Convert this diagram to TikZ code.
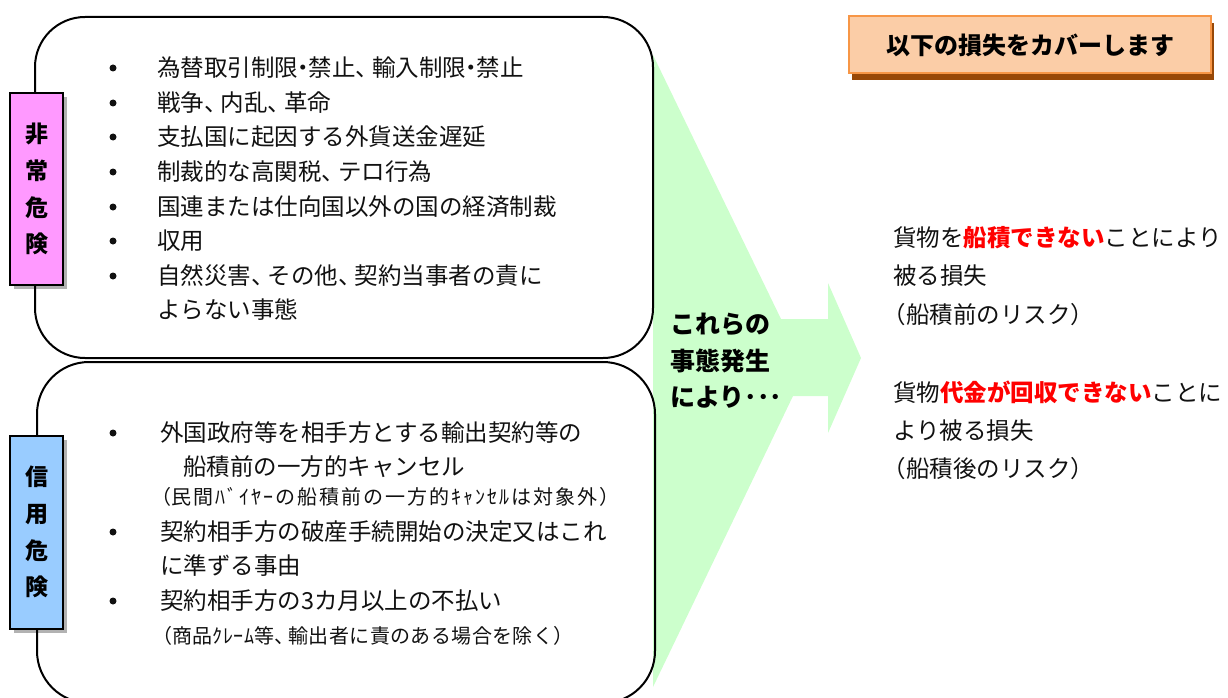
\documentclass[tikz,border=0pt]{standalone}
\usepackage{fontspec}
\setmainfont{Noto Sans CJK JP}
\usetikzlibrary{shadows}
\definecolor{pinkfill}{HTML}{FF99FF}
\definecolor{bluefill}{HTML}{99CCFF}
\definecolor{greenfill}{HTML}{CCFFCC}
\definecolor{peach}{HTML}{FBCDA7}
\definecolor{orangeline}{HTML}{F79646}
\definecolor{brownshadow}{HTML}{984807}
\definecolor{textblack}{HTML}{111111}
\definecolor{redtext}{HTML}{FF0000}
% narrow punctuation, like the proportional font of the reference
\newcommand\jten{\makebox[0.7em][l]{、}}
\newcommand\jdot{\makebox[0.45em][c]{・}}
\newcommand\jopen{\makebox[0.55em][r]{（}}
\begin{document}
\begin{tikzpicture}[x=1pt,y=-1pt,
  txt/.style={anchor=west, inner sep=0pt, text=textblack, font=\fontsize{23.5}{23.5}\selectfont},
  smalltxt/.style={anchor=west, inner sep=0pt, text=textblack, font=\fontsize{20}{20}\selectfont},
  bul/.style={circle, fill=textblack, inner sep=0pt, minimum size=7pt},
  riskbox/.style={line width=2pt, rounded corners=50pt},
  labelbox/.style={draw=black, line width=2pt, minimum width=53pt, inner sep=0pt, align=center,
    font=\fontsize{23}{36.8}\selectfont\bfseries,
    drop shadow={shadow xshift=4pt, shadow yshift=-4pt, opacity=0.3, fill=black}}
]
\useasboundingbox (0,0) rectangle (1228,698);

% green arrow
\fill[greenfill] (653,55) -- (781,319) -- (828,319) -- (828,283) -- (861,358)
  -- (828,433) -- (828,396) -- (793,396) -- (653,687) -- cycle;

% boxes
\draw[riskbox] (35,17) rectangle (653,358);
\draw[riskbox, rounded corners=52pt] (37,362) rectangle (655,703);

% labels
\node[labelbox, fill=pinkfill, minimum height=192pt] (hijo) at (36.5,189) {非\\常\\危\\険};
\node[labelbox, fill=bluefill, minimum height=193pt] (shinyo) at (36.5,532) {信\\用\\危\\険};

% top list
\node[bul] (b1) at (113,68) {};
\node[bul] (b2) at (113,103) {};
\node[bul] (b3) at (113,137) {};
\node[bul] (b4) at (113,172) {};
\node[bul] (b5) at (113,207) {};
\node[bul] (b6) at (113,241) {};
\node[bul] (b7) at (113,276) {};
\node[txt] (t1) at (157,68) {為替取引制限\jdot 禁止\jten 輸入制限\jdot 禁止};
\node[txt] (t2) at (157,103) {戦争\jten 内乱\jten 革命};
\node[txt] (t3) at (157,137) {支払国に起因する外貨送金遅延};
\node[txt] (t4) at (157,172) {制裁的な高関税\jten テロ行為};
\node[txt] (t5) at (157,207) {国連または仕向国以外の国の経済制裁};
\node[txt] (t6) at (157,241) {収用};
\node[txt] (t7) at (157,276) {自然災害\jten その他\jten 契約当事者の責に};
\node[txt] (t8) at (157,310) {よらない事態};

% bottom list
\node[bul] (c1) at (113,433) {};
\node[bul] (c2) at (113,532) {};
\node[bul] (c3) at (113,601) {};
\node[txt] (u1) at (160,433) {外国政府等を相手方とする輸出契約等の};
\node[txt] (u2) at (183,467) {船積前の一方的キャンセル};
\node[smalltxt] (u3) at (160,497) {\addfontfeatures{LetterSpace=10}\jopen 民間ﾊﾞｲﾔｰの船積前の一方的ｷｬﾝｾﾙは対象外）};
\node[txt] (u4) at (160,532) {契約相手方の破産手続開始の決定又はこれ};
\node[txt] (u5) at (160,566) {に準ずる事由};
\node[txt] (u6) at (160,601) {契約相手方の3カ月以上の不払い};
\node[smalltxt] (u7) at (161,636) {\addfontfeatures{LetterSpace=2}\jopen 商品ｸﾚｰﾑ等\jten 輸出者に責のある場合を除く）};

% middle text
\node[anchor=west, inner sep=0pt, align=left, text=black,
  font=\fontsize{25}{36.5}\selectfont\bfseries] (mid) at (670,361) {これらの\\事態発生\\により･･･};

% title
\node[draw=orangeline, line width=2pt, fill=peach, minimum width=362pt, minimum height=57pt,
  inner sep=0pt, font=\fontsize{24}{24}\selectfont\bfseries, text=black,
  drop shadow={shadow xshift=3pt, shadow yshift=-7pt, fill=brownshadow, opacity=1}]
  (title) at (1030,45) {以下の損失をカバーします};

% right texts
\node[anchor=west, inner sep=0pt, align=left, text=textblack,
  font=\fontsize{23.5}{38.5}\selectfont] (loss1) at (893,276)
  {貨物を{\color{redtext}\bfseries 船積できない}ことにより\\被る損失\\\jopen 船積前のリスク）};
\node[anchor=west, inner sep=0pt, align=left, text=textblack,
  font=\fontsize{23.5}{38}\selectfont] (loss2) at (893,430)
  {貨物{\color{redtext}\bfseries 代金が回収できない}ことに\\より被る損失\\\jopen 船積後のリスク）};
\end{tikzpicture}
\end{document}
